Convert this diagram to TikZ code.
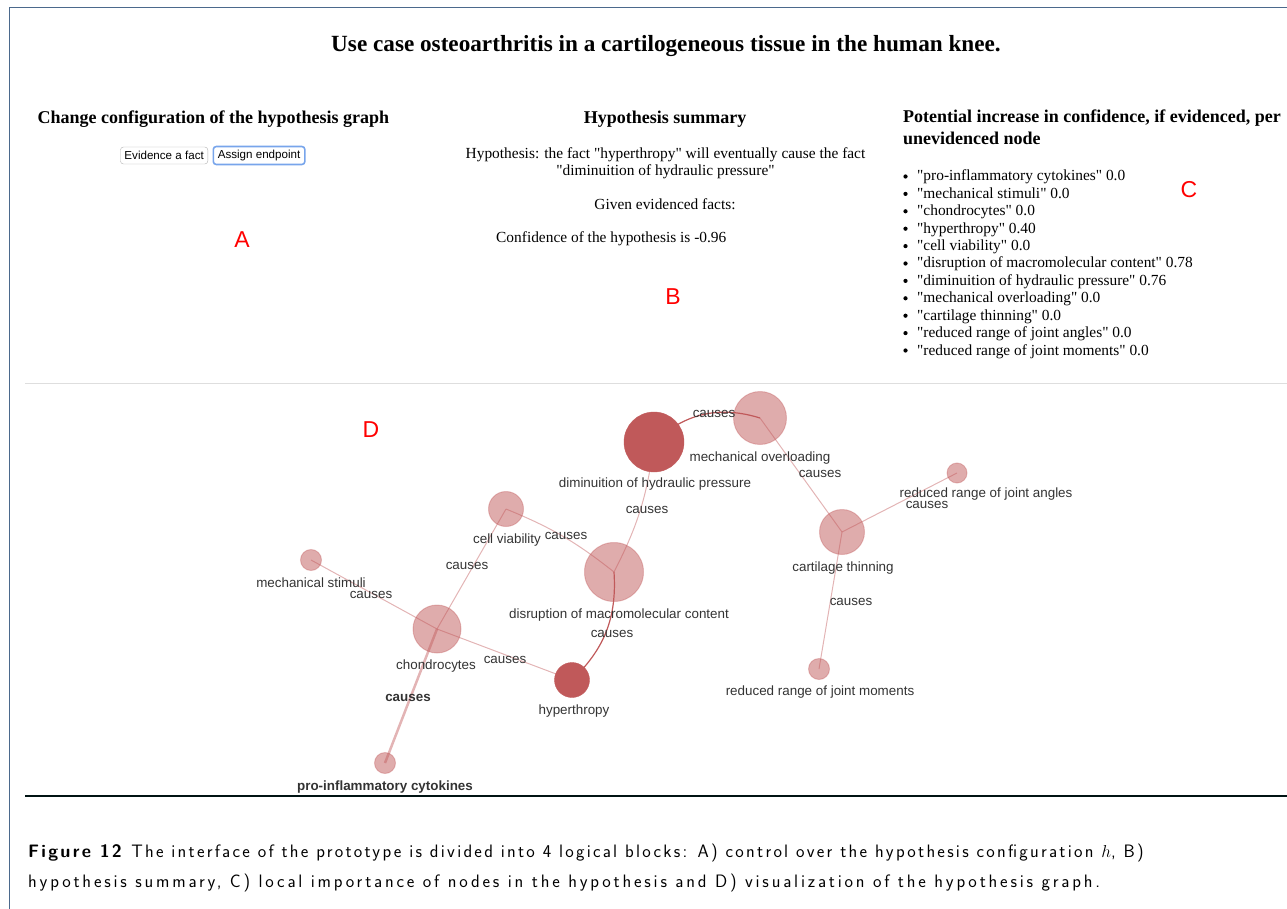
\documentclass[tikz,border=0pt]{standalone}
\usepackage{fontspec}
\setmainfont{Liberation Serif}[Ligatures=TeXOff]
\newfontfamily\gsans{Liberation Sans}
\newfontfamily\capfonta{Latin Modern Sans}[LetterSpace=12.5]
\newfontfamily\capfontb{Latin Modern Sans}[LetterSpace=15.6]
\usetikzlibrary{backgrounds}
\newcommand\dq{\symbol{34}}
\definecolor{dred}{RGB}{192,89,90}
\definecolor{frame}{RGB}{75,105,140}
\definecolor{lbl}{RGB}{51,51,51}
\definecolor{sep}{RGB}{222,222,222}
\definecolor{btnblue}{RGB}{120,165,235}
\tikzset{
  heading/.style={font=\fontsize{18}{21}\selectfont\bfseries, inner sep=0pt},
  body/.style={font=\fontsize{15.4}{18}\selectfont, inner sep=0pt},
  redletter/.style={font=\gsans\fontsize{23}{26}\selectfont, text=red, inner sep=0pt},
  btn/.style={draw=black!30, rounded corners=3pt, font=\gsans\fontsize{11.6}{13}\selectfont, inner xsep=4pt, inner ysep=0pt, minimum height=17pt},
  lightnode/.style={circle, fill=dred, fill opacity=0.5, draw=dred, draw opacity=0.35, line width=1pt, inner sep=0pt},
  darknode/.style={circle, fill=dred, draw=dred, inner sep=0pt},
  nlabel/.style={font=\gsans\fontsize{13.4}{15}\selectfont, text=lbl, inner sep=0pt},
  elabel/.style={font=\gsans\fontsize{13.4}{15}\selectfont, text=lbl, inner sep=0pt},
  ledge/.style={draw=dred, draw opacity=0.45, line width=1pt},
  dedge/.style={draw=dred, line width=1.2pt},
  captext/.style={anchor=base west, inner sep=0pt},
}
\begin{document}
\begin{tikzpicture}[x=1pt,y=-1pt]
\useasboundingbox (0,0) rectangle (1287,909);
% frame and separators
\draw[frame, line width=1pt] (9.5,909) -- (9.5,7.5) -- (1287,7.5);
\draw[sep, line width=1pt] (25,383) -- (1287,383);
\draw[black!85!teal, line width=1.2pt] (25,796) -- (1287,796);

% title
\node[font=\fontsize{23.2}{27}\selectfont\bfseries, inner sep=0pt, anchor=base] (title) at (666,52) {Use case osteoarthritis in a cartilogeneous tissue in the human knee.};

% block A
\node[heading, anchor=base] (hA) at (213.5,124) {Change configuration of the hypothesis graph};
\node[btn, anchor=east] (b1) at (208,155.5) {Evidence a fact};
\node[btn, anchor=west, draw=btnblue, line width=1.6pt, inner xsep=4.5pt, minimum height=18pt] (b2) at (212.5,155.5) {Assign endpoint};
\node[redletter] (A) at (242,240) {A};

% block B
\node[heading, anchor=base] (hB) at (665,124) {Hypothesis summary};
\node[body, anchor=base] (h1) at (665.5,159) {Hypothesis: the fact \dq hyperthropy\dq{} will eventually cause the fact};
\node[body, anchor=base] (h2) at (665.5,176) {\dq diminuition of hydraulic pressure\dq};
\node[body, anchor=base] (h3) at (665,210) {Given evidenced facts:};
\node[body, anchor=base west] (h4) at (496,243) {Confidence of the hypothesis is -0.96};
\node[redletter] (B) at (673,297) {B};

% block C
\node[heading, anchor=base west] (hC1) at (903,123) {Potential increase in confidence, if evidenced, per};
\node[heading, anchor=base west] (hC2) at (903,145) {unevidenced node};
\foreach \t [count=\i from 0] in {\dq pro-inflammatory cytokines\dq{} 0.0,
  \dq mechanical stimuli\dq{} 0.0, \dq chondrocytes\dq{} 0.0, \dq hyperthropy\dq{} 0.40,
  \dq cell viability\dq{} 0.0, \dq disruption of macromolecular content\dq{} 0.78,
  \dq diminuition of hydraulic pressure\dq{} 0.76, \dq mechanical overloading\dq{} 0.0,
  \dq cartilage thinning\dq{} 0.0, \dq reduced range of joint angles\dq{} 0.0,
  \dq reduced range of joint moments\dq{} 0.0} {
  \node[body, anchor=base west] (li\i) at (917,181+\i*17.4) {\t};
  \fill (905.5,176.5+\i*17.4) circle (2.1pt);
}
\node[redletter] (C) at (1189,190) {C};

% block D
\node[redletter] (D) at (371,430) {D};

% graph nodes
\node[darknode, minimum size=60pt] (dim) at (654,442) {};
\node[lightnode, minimum size=53pt] (mov) at (760,418) {};
\node[lightnode, minimum size=59pt] (dis) at (614,572) {};
\node[darknode, minimum size=35pt] (hyp) at (572,680) {};
\node[lightnode, minimum size=45pt] (ct) at (842,532) {};
\node[lightnode, minimum size=20pt] (rja) at (957,473) {};
\node[lightnode, minimum size=21pt] (rjm) at (819,669) {};
\node[lightnode, minimum size=35pt] (cv) at (506,509) {};
\node[lightnode, minimum size=21pt] (ms) at (311,560) {};
\node[lightnode, minimum size=48pt] (ch) at (437,629) {};
\node[lightnode, minimum size=21pt] (pic) at (385,763) {};

% edges
\begin{scope}[on background layer]
\draw[dedge] (dim.center) to[bend left=30] (mov.center);
\draw[ledge] (mov.center) -- (ct.center);
\draw[ledge] (ct.center) -- (rja.center);
\draw[ledge] (ct.center) -- (rjm.center);
\draw[ledge] (dis.center) to[bend right=10] (dim.center);
\draw[ledge] (cv.center) to[bend left=8] (dis.center);
\draw[dedge] (dis.center) to[bend left=25] (hyp.center);
\draw[ledge] (cv.center) -- (ch.center);
\draw[ledge, line width=2.5pt] (ch.center) -- (pic.center);
\draw[ledge] (ms.center) -- (ch.center);
\draw[ledge] (ch.center) -- (hyp.center);
\end{scope}

% node labels
\node[nlabel] (ldim) at (655,484) {diminuition of hydraulic pressure};
\node[nlabel] (lmov) at (760,458) {mechanical overloading};
\node[nlabel] (lrja) at (986,494) {reduced range of joint angles};
\node[nlabel] (lct) at (843,568) {cartilage thinning};
\node[nlabel] (lrjm) at (820,692) {reduced range of joint moments};
\node[nlabel] (lcv) at (507,540) {cell viability};
\node[nlabel] (lms) at (311,583) {mechanical stimuli};
\node[nlabel] (ldis) at (619,615) {disruption of macromolecular content};
\node[nlabel] (lch) at (436,666) {chondrocytes};
\node[nlabel] (lhyp) at (574,711) {hyperthropy};
\node[nlabel, font=\gsans\bfseries\fontsize{13.4}{15}\selectfont] (lpic) at (385,787) {pro-inflammatory cytokines};

% edge labels
\node[elabel] (e1) at (714,414) {causes};
\node[elabel] (e2) at (820,474) {causes};
\node[elabel] (e3) at (927,505) {causes};
\node[elabel] (e4) at (851,602) {causes};
\node[elabel] (e5) at (647,510) {causes};
\node[elabel] (e6) at (566,536) {causes};
\node[elabel] (e7) at (467,566) {causes};
\node[elabel] (e8) at (371,595) {causes};
\node[elabel] (e9) at (505,660) {causes};
\node[elabel] (e10) at (612,634) {causes};
\node[elabel, font=\gsans\bfseries\fontsize{13.4}{15}\selectfont] (e11) at (408,698) {causes};

% caption
\node[captext, font=\capfonta\fontsize{18}{21}\selectfont] (cap1) at (28,857) {\textbf{Figure 12}\hspace{0.4em}The interface of the prototype is divided into 4 logical blocks: A) control over the hypothesis configuration $h$, B)};
\node[captext, font=\capfontb\fontsize{18}{21}\selectfont] (cap2) at (28,887) {hypothesis summary, C) local importance of nodes in the hypothesis and D) visualization of the hypothesis graph.};
\end{tikzpicture}
\end{document}
